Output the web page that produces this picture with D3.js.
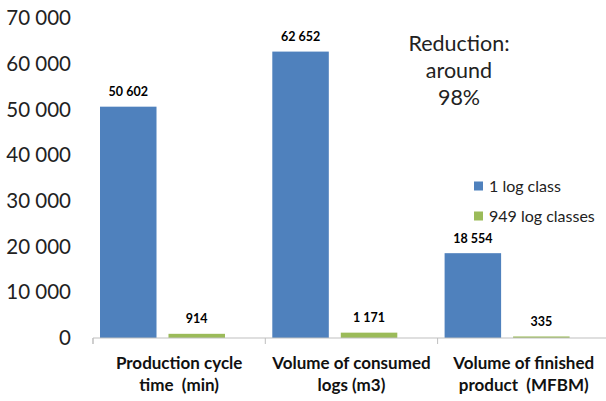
<!DOCTYPE html>
<html>
<head>
<meta charset="utf-8">
<script src="https://cdn.jsdelivr.net/npm/d3@7"></script>
<style>
  body { margin: 0; background: #fff; }
  text { font-family: Lato, "Open Sans", sans-serif; fill: #000; white-space: pre; }
</style>
</head>
<body>
<svg id="chart" width="606" height="401"></svg>
<script>
var categories = [["Production cycle", "time  (min)"], ["Volume of consumed", "logs (m3)"], ["Volume of finished", "product  (MFBM)"]],
  seriesNames = ["1 log class", "949 log classes"],
  oneClass = [50602, 62652, 18554],
  manyClasses = [914, 1171, 335],
  yTicks = [0, 10000, 20000, 30000, 40000, 50000, 60000, 70000],
  colors = ["#4F81BD", "#9BBB59"];

var svg = d3.select("#chart");

var x = d3.scaleBand()
  .domain([0, 1, 2])
  .range([93, 93 + 3 * 172.3]);

var x1 = d3.scaleBand()
  .domain([0, 1])
  .range([7, 132])
  .paddingInner(0.175);

var y = d3.scaleLinear()
  .domain([0, 70000])
  .range([338, 18]);

var fmt = function (v) { return d3.format(",")(v).replace(/,/g, " "); };

// y labels
svg.append("g")
  .selectAll("text")
  .data(yTicks)
  .enter().append("text")
  .attr("x", 71)
  .attr("y", function (d) { return y(d); })
  .attr("dy", "0.35em")
  .attr("text-anchor", "end")
  .style("font-size", "20.5px")
  .style("fill", "#222")
  .text(function (d) { return fmt(d); });

// bars
var groups = svg.append("g")
  .selectAll("g")
  .data(categories.map(function (c, i) { return i; }))
  .enter().append("g")
  .attr("transform", function (i) { return "translate(" + x(i) + ",0)"; });

groups.selectAll("rect")
  .data(function (i) { return [oneClass[i], manyClasses[i]]; })
  .enter().append("rect")
  .attr("x", function (d, j) { return x1(j); })
  .attr("width", x1.bandwidth())
  .attr("y", function (d) { return y(d); })
  .attr("height", function (d) { return y(0) - y(d); })
  .attr("fill", function (d, j) { return colors[j]; });

groups.selectAll("text.val")
  .data(function (i) { return [oneClass[i], manyClasses[i]]; })
  .enter().append("text")
  .attr("class", "val")
  .attr("x", function (d, j) { return x1(j) + x1.bandwidth() / 2; })
  .attr("y", function (d) { return y(d) - 15; })
  .attr("dy", "0.35em")
  .attr("text-anchor", "middle")
  .style("font-size", "12.5px")
  .style("font-weight", "bold")
  .text(function (d) { return fmt(d); });

// x axis
var xAxis = svg.append("g")
  .attr("transform", "translate(0," + y(0) + ")")
  .call(d3.axisBottom(x).tickSize(6).tickFormat(""));
xAxis.select(".domain").attr("stroke", "#bfbfbf").attr("d", "M93,6V0H610");
xAxis.selectAll(".tick line").attr("stroke", "#bfbfbf")
  .attr("transform", "translate(" + (-x.bandwidth() / 2) + ",0)");

// category labels
var lab = svg.append("g")
  .selectAll("text")
  .data(categories)
  .enter().append("text")
  .attr("text-anchor", "middle")
  .style("font-size", "17px")
  .style("font-weight", "bold")
  .style("fill", "#111");
lab.selectAll("tspan")
  .data(function (d, i) { return d.map(function (t) { return { t: t, i: i }; }); })
  .enter().append("tspan")
  .attr("x", function (d) { return x(d.i) + x.bandwidth() / 2; })
  .attr("y", function (d, k) { return 369 + k * 22; })
  .text(function (d) { return d.t; });

// legend
var legend = svg.append("g")
  .selectAll("g")
  .data(seriesNames)
  .enter().append("g")
  .attr("transform", function (d, i) { return "translate(474," + (186 + i * 30) + ")"; });
legend.append("rect")
  .attr("y", -4.5)
  .attr("width", 9)
  .attr("height", 9)
  .attr("fill", function (d, i) { return colors[i]; });
legend.append("text")
  .attr("x", 15)
  .attr("dy", "0.35em")
  .style("font-size", "16px")
  .style("fill", "#222")
  .text(function (d) { return d; });

// annotation
svg.append("text")
  .attr("text-anchor", "middle")
  .style("font-size", "21.5px")
  .style("fill", "#222")
  .selectAll("tspan")
  .data(["Reduction:", "around", "98%"])
  .enter().append("tspan")
  .attr("x", 459)
  .attr("y", function (d, i) { return 51 + i * 27; })
  .text(function (d) { return d; });
</script>
</body>
</html>
